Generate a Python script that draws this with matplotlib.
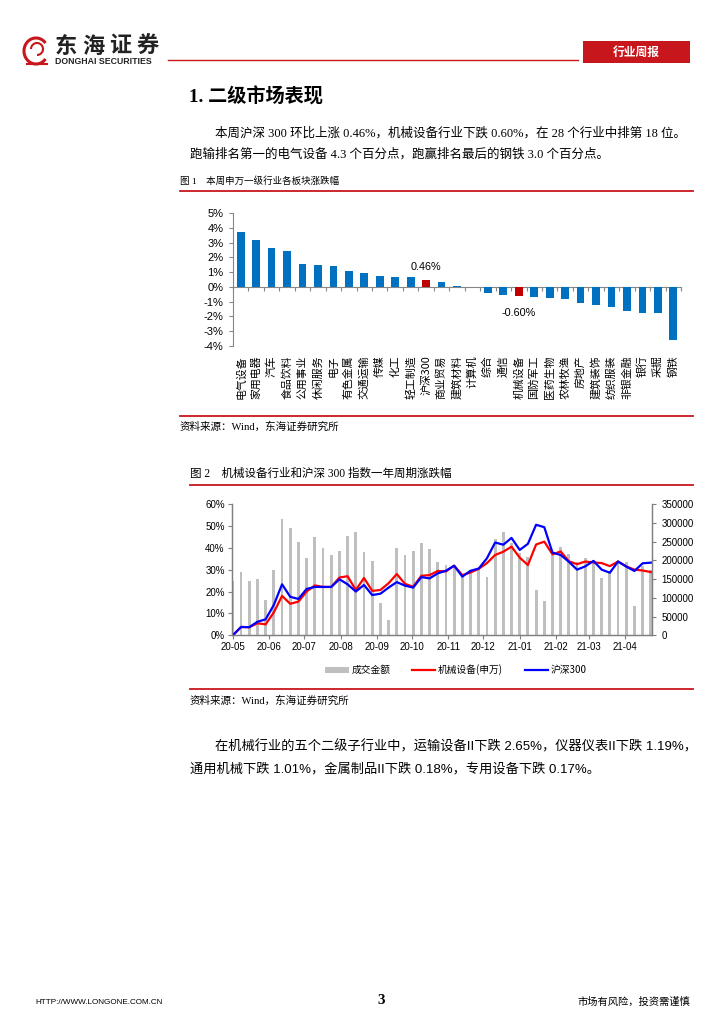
import numpy as np
import pandas as pd
import matplotlib
matplotlib.use('Agg')
from matplotlib import pyplot as plt
from matplotlib import dates as mdates
from matplotlib.patches import Rectangle, Patch, Arc
from matplotlib.lines import Line2D
from matplotlib.ticker import FuncFormatter

SANS = ['Liberation Sans', 'Noto Sans CJK SC', 'DejaVu Sans']
SERIF = ['Liberation Serif', 'Noto Sans CJK SC', 'DejaVu Sans']
CJK = ['Noto Sans CJK SC', 'DejaVu Sans']
plt.rcParams['font.family'] = SANS
plt.rcParams['axes.unicode_minus'] = False

# 图1：本周申万一级行业涨跌幅(%)
industries = ['电气设备', '家用电器', '汽车', '食品饮料', '公用事业', '休闲服务', '电子',
              '有色金属', '交通运输', '传媒', '化工', '轻工制造', '沪深300', '商业贸易',
              '建筑材料', '计算机', '综合', '通信', '机械设备', '国防军工', '医药生物',
              '农林牧渔', '房地产', '建筑装饰', '纺织服装', '非银金融', '银行', '采掘', '钢铁']
weekly_change = [3.70, 3.14, 2.61, 2.43, 1.52, 1.45, 1.39, 1.09, 0.95, 0.77, 0.66, 0.66,
                 0.46, 0.36, 0.09, 0.02, -0.41, -0.55, -0.60, -0.68, -0.75, -0.80, -1.09,
                 -1.23, -1.36, -1.66, -1.80, -1.80, -3.60]
highlight = ['沪深300', '机械设备']

# 图2：一年周期（周度）
week_end = pd.date_range('2020-05-01', periods=52, freq='7D')
turnover = [145800, 169800, 145800, 150200, 94200, 174200, 309300, 287000, 247900, 206200,
            262200, 232800, 213300, 223900, 264800, 276400, 221300, 197000, 87100, 40900,
            233000, 214200, 225700, 246000, 230000, 194600, 187500, 186000, 156000, 174000,
            176000, 155000, 257000, 276000, 245000, 218600, 209700, 120900, 91500, 214000,
            235000, 218000, 196000, 206000, 200000, 153000, 172000, 200000, 196000, 78000,
            185000, 175000]
machinery = [0, 3.8, 3.7, 5.5, 5.0, 10.5, 18.0, 14.4, 15.4, 20.0, 22.8, 22.1, 22.1, 26.4,
             27.0, 20.7, 26.2, 20.3, 20.7, 23.8, 28.0, 23.5, 22.2, 27.2, 27.5, 29.4, 29.2,
             31.8, 27.5, 28.7, 30.4, 33.0, 36.7, 38.2, 40.5, 35.5, 32.1, 41.5, 42.8, 37.0,
             38.3, 33.8, 32.5, 33.7, 33.3, 33.0, 31.6, 33.7, 31.5, 30.0, 29.6, 28.9]
hs300 = [0, 3.8, 3.7, 6.2, 7.3, 13.9, 23.3, 17.6, 16.6, 21.2, 22.1, 22.1, 22.1, 25.6, 23.3,
         20.0, 23.0, 18.4, 19.0, 21.8, 24.3, 22.7, 21.8, 26.6, 26.0, 28.3, 29.5, 31.8, 26.8,
         29.5, 30.5, 35.2, 42.4, 41.4, 44.5, 39.0, 41.8, 50.5, 49.4, 37.8, 36.7, 33.6, 30.0,
         31.5, 34.0, 30.0, 28.6, 33.7, 31.4, 29.4, 32.9, 33.2]

W, H = 724, 1024
fig = plt.figure(figsize=(W / 100, H / 100), dpi=100)
fig.patch.set_facecolor('white')


def box(l, t, r, b):
    return [l / W, 1 - b / H, (r - l) / W, (b - t) / H]


# 页面装饰层（像素坐标）
page = fig.add_axes([0, 0, 1, 1], zorder=-5)
page.set_xlim(0, W)
page.set_ylim(H, 0)
page.axis('off')

red = '#C8161D'
page.add_patch(Arc((36, 51), 24, 26, theta1=40, theta2=320, color=red, lw=2.2))
page.add_patch(Arc((37, 49), 12, 12, theta1=180, theta2=450, color=red, lw=1.5))
page.plot([27, 47], [64, 64], color=red, lw=1.5)
for k, ch in enumerate('东海证券'):
    page.text(55 + k * 27, 46, ch, family=CJK, fontsize=16, fontweight='bold',
              color='#222222', va='center')
page.text(55, 61.5, 'DONGHAI SECURITIES', fontsize=6.3, fontweight='bold', color='#222222', va='center')
page.plot([168, 578], [60, 60], color=red, lw=1)
page.add_patch(Rectangle((583, 41), 107, 22, facecolor=red, edgecolor='none'))
page.text(636, 52, '行业周报', family=CJK, fontsize=8.5, fontweight='bold', color='white', ha='center', va='center')

page.text(189, 97, '1. 二级市场表现', family=SERIF, fontsize=13.8, fontweight='bold', va='center')
page.text(215, 133, '本周沪深 300 环比上涨 0.46%，机械设备行业下跌 0.60%，在 28 个行业中排第 18 位。',
          family=SERIF, fontsize=9.0, va='center')
page.text(190, 154, '跑输排名第一的电气设备 4.3 个百分点，跑赢排名最后的钢铁 3.0 个百分点。',
          family=SERIF, fontsize=9.0, va='center')

page.text(180, 181, '图 1    本周申万一级行业各板块涨跌幅', family=SERIF, fontsize=6.8, va='center')
page.plot([180, 693], [191, 191], color=red, lw=1.3)
page.plot([180, 693], [416, 416], color=red, lw=1.3)
page.text(180, 427, '资料来源：Wind，东海证券研究所', family=SERIF, fontsize=7.6, va='center')

page.text(190, 474, '图 2    机械设备行业和沪深 300 指数一年周期涨跌幅', family=SERIF, fontsize=8.3, va='center')
page.plot([190, 693], [485, 485], color=red, lw=1.3)
page.plot([190, 693], [689, 689], color=red, lw=1.3)
page.text(190, 701, '资料来源：Wind，东海证券研究所', family=SERIF, fontsize=7.6, va='center')

page.text(215, 747, '在机械行业的五个二级子行业中，运输设备II下跌 2.65%，仪器仪表II下跌 1.19%，',
          family=SANS, fontsize=9.5, va='center')
page.text(190, 769, '通用机械下跌 1.01%，金属制品II下跌 0.18%，专用设备下跌 0.17%。',
          family=SANS, fontsize=9.5, va='center')

page.text(35, 1002, 'HTTP://WWW.LONGONE.COM.CN', fontsize=5.9, va='center')
page.text(381, 1001, '3', family=SERIF, fontsize=11, fontweight='bold', ha='center', va='center')
page.text(690, 1002, '市场有风险，投资需谨慎', family=CJK, fontsize=7.4, ha='right', va='center')

# 图1
ax1 = fig.add_axes(box(233, 213, 681, 346))
x1 = np.arange(len(industries))
colors = ['#C00000' if n in highlight else '#0070C0' for n in industries]
ax1.bar(x1, weekly_change, width=0.5, color=colors, zorder=3)
ax1.set_xlim(-0.5, len(industries) - 0.5)
ax1.set_ylim(-4, 5)
ax1.set_yticks(np.arange(-4, 6, 1))
ax1.yaxis.set_major_formatter(FuncFormatter(lambda v, p: '%d%%' % v))
ax1.set_xticks(np.arange(-0.5, len(industries), 1))
ax1.set_xticklabels([])
for s in ['top', 'right']:
    ax1.spines[s].set_visible(False)
ax1.spines['bottom'].set_position(('data', 0))
for s in ['left', 'bottom']:
    ax1.spines[s].set_color('#868686')
    ax1.spines[s].set_linewidth(0.8)
ax1.tick_params(axis='both', direction='out', length=3, width=0.8, color='#868686', labelsize=8, pad=4)
for i, name in enumerate(industries):
    ax1.annotate(name, xy=(i, 0), xycoords=('data', 'axes fraction'), xytext=(0, -6.5),
                 textcoords='offset points', rotation=90, ha='center', va='top',
                 family=CJK, fontsize=7.8)
for name in highlight:
    i = industries.index(name)
    v = weekly_change[i]
    off = 6 if v > 0 else -9
    ax1.annotate('%.2f%%' % v, xy=(i, v), xytext=(0, off), textcoords='offset points',
                 ha='center', va='bottom' if v > 0 else 'top', fontsize=7.8)

# 图2
ax2 = fig.add_axes(box(231.7, 504, 652, 635.3))
ax2r = ax2.twinx()
ax2r.bar(week_end, turnover, width=2.4, color='#BFBFBF', zorder=2)
ax2.plot(week_end, machinery, color='#FF0000', lw=1.6, solid_joinstyle='round')
ax2.plot(week_end, hs300, color='#0000FF', lw=1.6, solid_joinstyle='round')
ax2.set_zorder(ax2r.get_zorder() + 1)
ax2.patch.set_visible(False)
ax2.set_xlim(pd.Timestamp('2020-04-30'), pd.Timestamp('2021-04-24'))
ax2.set_ylim(0, 60)
ax2.set_yticks(np.arange(0, 61, 10))
ax2.yaxis.set_major_formatter(FuncFormatter(lambda v, p: '%d%%' % v))
ax2r.set_ylim(0, 350000)
ax2r.set_yticks(np.arange(0, 350001, 50000))
ax2r.yaxis.set_major_formatter(FuncFormatter(lambda v, p: '%d' % v))
ax2.xaxis.set_major_locator(mdates.MonthLocator())
ax2.xaxis.set_major_formatter(mdates.DateFormatter('%y-%m'))
for a in (ax2, ax2r):
    a.spines['top'].set_visible(False)
    for s in ['left', 'right', 'bottom']:
        a.spines[s].set_color('#808080')
        a.spines[s].set_linewidth(0.9)
    a.tick_params(direction='out', length=3, width=0.8, color='#808080', labelsize=7, pad=2)
ax2r.tick_params(axis='y', pad=4)

handles = [Patch(facecolor='#BFBFBF', edgecolor='none'),
           Line2D([], [], color='#FF0000', lw=1.6),
           Line2D([], [], color='#0000FF', lw=1.6)]
fig.legend(handles, ['成交金额', '机械设备(申万)', '沪深300'], loc='center',
           bbox_to_anchor=(456 / W, 1 - 670 / H), ncol=3, frameon=False,
           prop={'family': CJK, 'size': 7}, handlelength=2.4, handleheight=0.5,
           handletextpad=0.3, columnspacing=2.2)

fig.savefig('out.png', dpi=100)
